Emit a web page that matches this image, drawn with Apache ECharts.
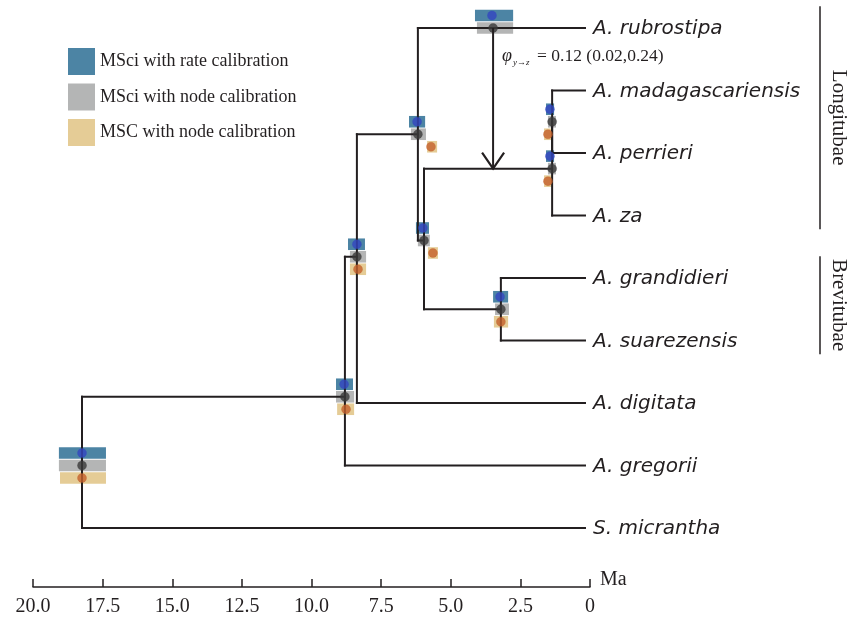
<!DOCTYPE html>
<html><head><meta charset="utf-8">
<script src="https://cdn.jsdelivr.net/npm/echarts@6/dist/echarts.min.js"></script>
<style>html,body{margin:0;padding:0;background:#fff}#c{width:848px;height:620px}</style>
</head><body><div id="c"></div>
<script>
// ---- data ----
const tipNames = ['A. rubrostipa','A. madagascariensis','A. perrieri','A. za','A. grandidieri','A. suarezensis','A. digitata','A. gregorii','S. micrantha'];
// internal nodes: children keys (t = tip index, n = node index)
const nodeChildren = [['t1','t2'],['n0','t3'],['t4','t5'],['n1','n2'],['t0','n3'],['n4','t6'],['n5','t7'],['n6','t8']];
const nodeRow = [1.5, 2.25, 4.5, 3.4, 1.7, 3.66, 5.9, 7.0];
// node ages (Ma) with 95% HPD
const rateAge  = [1.44, 1.44, 3.23, 6.00, 6.21, 8.37, 8.83, 18.24];
const rateLow  = [1.29, 1.29, 2.94, 5.78, 5.92, 8.08, 8.51, 17.38];
const rateHigh = [1.58, 1.58, 3.48, 6.25, 6.50, 8.69, 9.12, 19.07];
const nodeAge  = [1.36, 1.36, 3.20, 5.96, 6.18, 8.37, 8.80, 18.24];
const nodeLow  = [1.22, 1.22, 2.91, 5.75, 5.89, 8.04, 8.47, 17.38];
const nodeHigh = [1.51, 1.51, 3.41, 6.18, 6.43, 8.62, 9.12, 19.07];
const mscAge   = [1.51, 1.51, 3.20, 5.64, 5.71, 8.33, 8.76, 18.24];
const mscLow   = [1.33, 1.33, 2.94, 5.46, 5.49, 8.04, 8.47, 17.38];
const mscHigh  = [1.65, 1.65, 3.45, 5.82, 5.85, 8.62, 9.08, 19.03];
// introgression rubrostipa -> Longitubae stem
const introRate = [3.52, 2.76, 4.13];
const introNode = [3.48, 2.76, 4.06];
const introFromTip = 0;
const introToNode = 1;
const phiValues = [0.12, 0.02, 0.24];
const xTicks = [20, 17.5, 15, 12.5, 10, 7.5, 5, 2.5, 0];
const clades = [['Longitubae', 0, 3], ['Brevitubae', 4, 5]];
const legendNames = ['MSci with rate calibration', 'MSci with node calibration', 'MSC with node calibration'];
const TIP_END = 0.18;

// ---- styles ----
const INK = '#231f20';
const boxColors = ['#4c84a4', '#b4b5b5', '#e5cc96'];
const dotColors = ['#3346c0', '#3a3a3a', '#c4602c'];
const rowShift = [-0.2, 0, 0.2];

function rowOf(k){ return k[0] === 't' ? +k.slice(1) : nodeRow[+k.slice(1)]; }
function ageOf(k){ return k[0] === 't' ? TIP_END : nodeAge[+k.slice(1)]; }
const segs = [];
nodeChildren.forEach((ch, i) => {
  const rows = ch.map(rowOf);
  segs.push([nodeAge[i], Math.min(...rows), nodeAge[i], Math.max(...rows)]);
  ch.forEach(c => segs.push([nodeAge[i], rowOf(c), ageOf(c), rowOf(c)]));
});

const methods = [[rateAge, rateLow, rateHigh, introRate], [nodeAge, nodeLow, nodeHigh, introNode], [mscAge, mscLow, mscHigh, null]];
const markerData = methods.map(([a, l, h, intro]) => {
  const d = a.map((v, i) => [v, l[i], h[i], nodeRow[i]]);
  if (intro) d.push([intro[0], intro[1], intro[2], introFromTip]);
  return d;
});

const series = [];
series.push({
  type: 'custom', name: 'tree', z: 3, clip: false, silent: true,
  data: segs,
  renderItem: (p, api) => {
    const a = api.coord([api.value(0), api.value(1)]);
    const b = api.coord([api.value(2), api.value(3)]);
    return { type: 'line', shape: { x1: a[0], y1: a[1], x2: b[0], y2: b[1] }, style: { stroke: INK, lineWidth: 2, lineCap: 'square' } };
  }
});
legendNames.forEach((nm, m) => {
  series.push({
    type: 'custom', name: nm, z: 2, clip: false, silent: true,
    itemStyle: { color: boxColors[m] },
    data: markerData[m],
    renderItem: (p, api) => {
      const r = api.value(3) + rowShift[m];
      const pl = api.coord([api.value(2), r]);
      const pr = api.coord([api.value(1), r]);
      return { type: 'rect', shape: { x: pl[0], y: pl[1] - 5.8, width: pr[0] - pl[0], height: 11.6 }, style: { fill: boxColors[m] } };
    }
  });
  series.push({
    type: 'custom', name: nm + ' dot', z: 4, clip: false, silent: true,
    data: markerData[m],
    renderItem: (p, api) => {
      const c = api.coord([api.value(0), api.value(3) + rowShift[m]]);
      return { type: 'circle', shape: { cx: c[0], cy: c[1], r: 4.5 }, style: { fill: dotColors[m], opacity: 0.8, stroke: dotColors[m], lineWidth: 1, strokeOpacity: 0.4 } };
    }
  });
});
// tip labels
series.push({
  type: 'custom', name: 'tips', z: 5, clip: false, silent: true,
  data: tipNames.map((n, i) => [TIP_END, i]),
  renderItem: (p, api) => {
    const c = api.coord([api.value(0), api.value(1)]);
    return { type: 'text', x: c[0] + 8, y: c[1] + 1, style: { text: tipNames[p.dataIndex], fontFamily: 'DejaVu Sans', fontStyle: 'italic', fontSize: 20, fill: INK, align: 'left', verticalAlign: 'middle' } };
  }
});
// introgression arrow + phi label
series.push({
  type: 'custom', name: 'intro', z: 5, clip: false, silent: true,
  data: [[introNode[0], introFromTip, nodeRow[introToNode]]],
  renderItem: (p, api) => {
    const a = api.coord([api.value(0), api.value(1)]);
    const b = api.coord([api.value(0), api.value(2)]);
    const t = (v) => v.toFixed(2);
    return { type: 'group', children: [
      { type: 'line', shape: { x1: a[0], y1: a[1], x2: b[0], y2: b[1] }, style: { stroke: INK, lineWidth: 2 } },
      { type: 'polyline', shape: { points: [[b[0] - 11, b[1] - 16], [b[0], b[1]], [b[0] + 11, b[1] - 16]] }, style: { stroke: INK, lineWidth: 2.2, fill: null } },
      { type: 'text', x: a[0] + 9, y: a[1] + 28, style: { text: 'φ', fontFamily: 'Liberation Serif', fontStyle: 'italic', fontSize: 18, fill: INK, verticalAlign: 'middle' } },
      { type: 'text', x: a[0] + 20, y: a[1] + 35, style: { text: 'y→z', fontFamily: 'Liberation Serif', fontStyle: 'italic', fontSize: 9, fill: INK, verticalAlign: 'middle' } },
      { type: 'text', x: a[0] + 44, y: a[1] + 28, style: { text: '= ' + t(phiValues[0]) + ' (' + t(phiValues[1]) + ',' + t(phiValues[2]) + ')', fontFamily: 'Liberation Serif', fontSize: 17.5, fill: INK, verticalAlign: 'middle' } }
    ] };
  }
});
// clade bars
series.push({
  type: 'custom', name: 'clades', z: 5, clip: false, silent: true,
  data: clades.map(c => [c[1], c[2]]),
  renderItem: (p, api) => {
    const top = api.coord([0, api.value(0) - 0.35]);
    const bot = api.coord([0, api.value(1) + 0.22]);
    const x = 820;
    return { type: 'group', children: [
      { type: 'line', shape: { x1: x, y1: top[1], x2: x, y2: bot[1] }, style: { stroke: INK, lineWidth: 1.5 } },
      { type: 'text', x: x + 19, y: (top[1] + bot[1]) / 2, rotation: -Math.PI / 2, style: { text: clades[p.dataIndex][0], fontFamily: 'Liberation Serif', fontSize: 21, fill: INK, align: 'center', verticalAlign: 'middle' } }
    ] };
  }
});

const chart = echarts.init(document.getElementById('c'), null, { renderer: 'canvas' });
chart.setOption({
  animation: false,
  backgroundColor: '#fff',
  grid: { left: 33, right: 258, top: 28, height: 500, containLabel: false, outerBoundsMode: 'none' },
  legend: {
    data: legendNames, orient: 'vertical', left: 63, top: 43, itemWidth: 27, itemHeight: 27, itemGap: 8.5,
    icon: 'rect', selectedMode: false,
    textStyle: { fontFamily: 'Liberation Serif', fontSize: 18, color: INK }
  },
  xAxis: {
    type: 'value', min: 0, max: 20, interval: 2.5, inverse: true, position: 'bottom', offset: 59,
    axisLine: { show: true, onZero: false, lineStyle: { color: INK, width: 1.5 } },
    axisTick: { show: true, inside: true, length: 8, lineStyle: { color: INK, width: 1.5 }, customValues: xTicks },
    axisLabel: { customValues: xTicks, formatter: v => v === 0 ? '0' : v.toFixed(1), fontFamily: 'Liberation Serif', fontSize: 20, color: INK, margin: 10 },
    splitLine: { show: false },
    name: 'Ma', nameLocation: 'start', nameGap: 10,
    nameTextStyle: { fontFamily: 'Liberation Serif', fontSize: 20, color: INK, verticalAlign: 'bottom', lineHeight: 14 }
  },
  yAxis: { type: 'value', min: 0, max: 8, inverse: true, show: false },
  series: series
});
</script></body></html>
